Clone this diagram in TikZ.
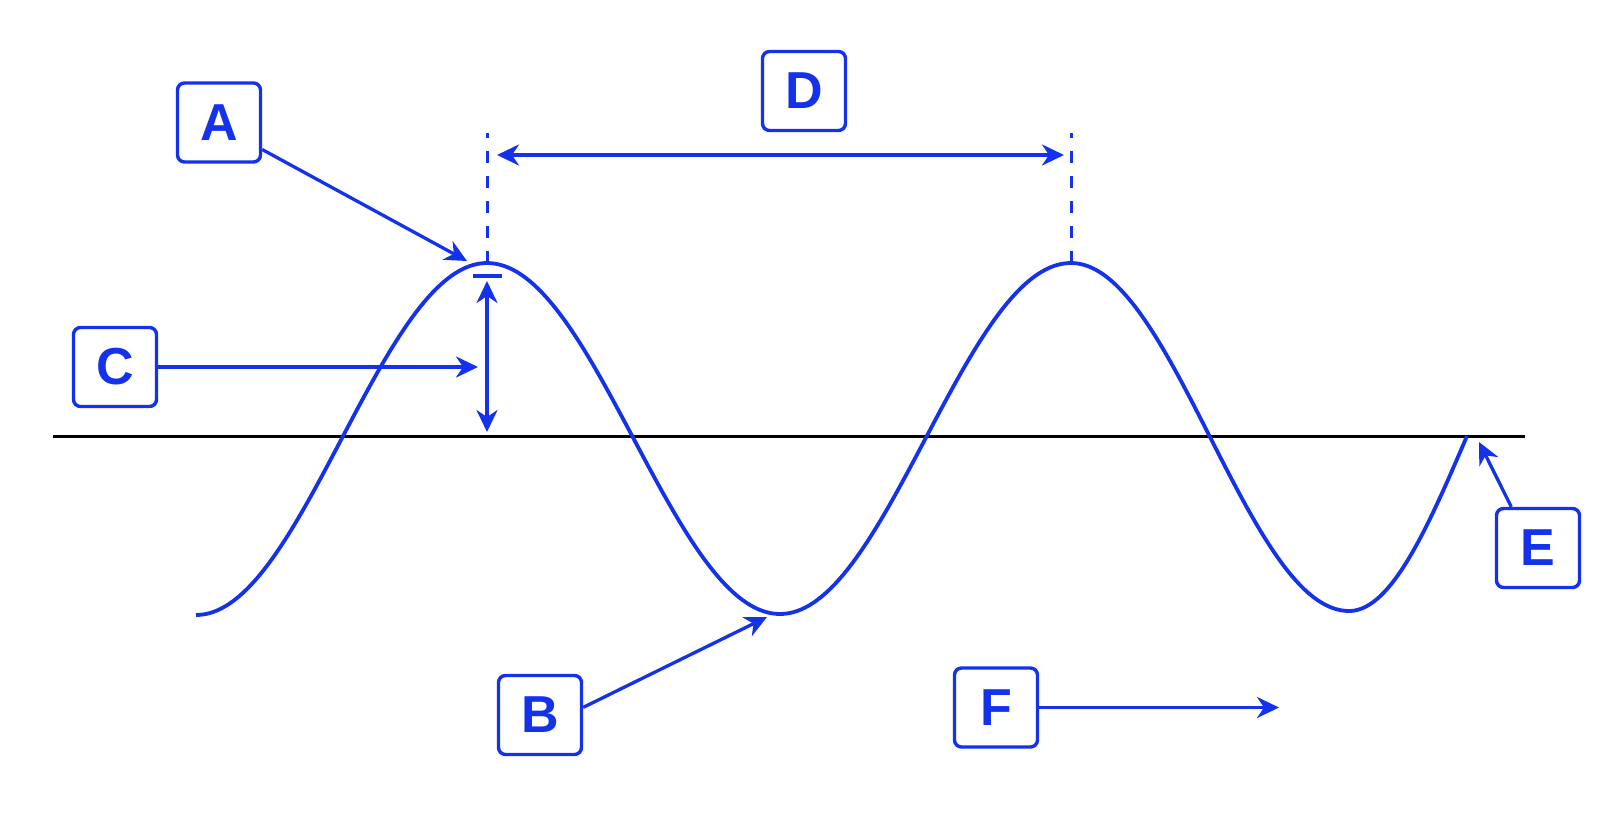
\documentclass[tikz,border=0pt]{standalone}
\usepackage{fontspec}
\setmainfont{Liberation Sans}
\usetikzlibrary{arrows.meta}
\definecolor{bl}{RGB}{20,50,235}
\begin{document}
\begin{tikzpicture}[x=1pt,y=-1pt,
  box/.style={draw=bl, line width=3.4pt, rounded corners=7pt, minimum width=83pt, minimum height=79pt, inner sep=0pt, text=bl, font=\fontsize{52}{52}\selectfont\bfseries},
  tip/.tip={Stealth[length=22pt,width=21pt,inset=7pt]},
  arr/.style={draw=bl, line width=3.3pt, -tip},
  darr/.style={draw=bl, line width=3.3pt, tip-tip},
  wave/.style={draw=bl, line width=3.8pt, line join=round},
  dashline/.style={draw=bl, line width=3pt, dash pattern=on 12pt off 13pt},
  axisline/.style={draw=black, line width=3pt}]
\useasboundingbox (0,0) rectangle (1600,831);

% axis
\coordinate (axL) at (53,436);
\coordinate (axR) at (1525,436);
\draw[axisline] (axL) -- (axR);

% wave
\draw[wave]
  plot[domain=196:487, samples=70] (\x,{439 + 176*cos((\x-196)/291*180)})
  -- plot[domain=487:780, samples=70] (\x,{438.5 - 175.5*cos((\x-487)/293*180)})
  -- plot[domain=780:1071, samples=70] (\x,{438.5 + 175.5*cos((\x-780)/291*180)})
  -- plot[domain=1071:1349, samples=70] (\x,{437 - 174*cos((\x-1071)/278*180)})
  -- plot[domain=1349:1467, samples=40] (\x,{436 + 175*cos((\x-1349)/118*90)});

% dashed markers
\coordinate (p1) at (487,263);
\coordinate (p1t) at (487,133);
\coordinate (p2) at (1071,263);
\coordinate (p2t) at (1071,133);
\draw[dashline] (p1) -- (p1t);
\draw[dashline] (p2) -- (p2t);

% wavelength arrow
\coordinate (dl) at (497,155);
\coordinate (dr) at (1064,155);
\draw[darr] (dl) -- (dr);

% amplitude
\coordinate (tkL) at (473,276);
\coordinate (tkR) at (502,276);
\draw[bl, line width=3.3pt] (tkL) -- (tkR);
\coordinate (amT) at (487,281);
\coordinate (amB) at (487,432);
\draw[darr] (amT) -- (amB);

% boxes
\node[box] (A) at (219,122.5) {A};
\node[box] (D) at (804,91) {D};
\node[box] (C) at (115,367) {C};
\node[box] (B) at (540,715) {B};
\node[box] (F) at (996,707.5) {F};
\node[box] (E) at (1538,548) {E};

% label arrows
\coordinate (atip) at (467,261);
\coordinate (ctip) at (478,367);
\coordinate (btip) at (767,617);
\coordinate (ftip) at (1279,707.5);
\coordinate (etip) at (1479,442);
\draw[arr] (A.-32) -- (atip);
\draw[arr] (C.east) -- (ctip);
\draw[arr] (B.10) -- (btip);
\draw[arr] (F.east) -- (ftip);
\draw[arr] (E.123) -- (etip);
\end{tikzpicture}
\end{document}
